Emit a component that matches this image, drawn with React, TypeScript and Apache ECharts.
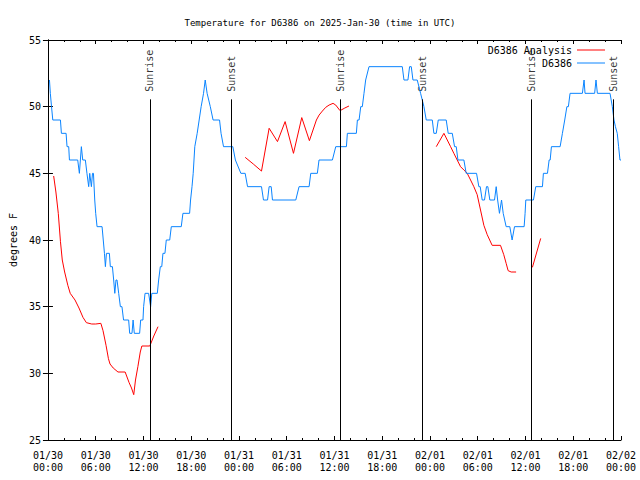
import React, { useEffect, useRef } from "react";
import * as echarts from "echarts";

const FONT = "'DejaVu Sans Mono', 'Liberation Mono', monospace";

const titleText = "Temperature for D6386 on 2025-Jan-30 (time in UTC)";
const xTickLabels = [
  "01/30\n00:00", "01/30\n06:00", "01/30\n12:00", "01/30\n18:00",
  "01/31\n00:00", "01/31\n06:00", "01/31\n12:00", "01/31\n18:00",
  "02/01\n00:00", "02/01\n06:00", "02/01\n12:00", "02/01\n18:00",
  "02/02\n00:00",
];
const sunHours = [12.8, 23.08, 36.73, 47.0, 60.77, 71.04];
const sunNames = ["Sunrise", "Sunset", "Sunrise", "Sunset", "Sunrise", "Sunset"];
const sunLineTop = 50.55;

// D6386 observations (hours since 01/30 00:00 UTC, deg F)
const obsHours = [
  0.19, 0.3, 0.45, 0.61, 1.57, 1.69, 2.28, 2.4, 2.61, 2.7, 3.74, 3.95, 4.2, 4.37, 4.7, 4.9,
  5.12, 5.25, 5.46, 5.6, 5.72, 5.88, 6.0, 6.17, 6.8, 6.95, 7.1, 7.22, 7.35, 7.72, 7.84, 8.1,
  8.26, 8.4, 8.55, 8.68, 8.89, 9.1, 9.3, 9.5, 10.14, 10.27, 10.56, 10.7, 10.85, 11.52, 11.65,
  11.94, 12.02, 12.2, 12.65, 12.9, 13.05, 13.74, 13.91, 14.12, 14.3, 14.45, 14.7, 14.87, 15.3,
  15.5, 16.75, 16.96, 17.8, 17.92, 18.1, 18.25, 18.35, 18.45, 18.75, 19.0, 19.25, 19.55, 19.76,
  20.0, 20.4, 20.75, 21.56, 21.75, 22.06, 23.23, 23.55, 24.24, 24.78, 25.08, 26.83, 27.08,
  27.59, 27.79, 28.05, 28.21, 31.14, 31.55, 32.81, 33.02, 33.85, 34.06, 35.74, 36.16, 37.5,
  37.62, 38.75, 38.88, 39.09, 39.3, 39.5, 39.71, 39.92, 40.34, 44.52, 44.73, 45.23, 45.44,
  45.65, 45.86, 46.4, 46.82, 47.24, 47.53, 48.29, 48.49, 48.79, 49.04, 50.04, 50.29, 50.8,
  51.09, 51.3, 51.51, 52.26, 52.55, 53.85, 54.14, 54.31, 54.56, 54.85, 55.1, 55.27, 55.52,
  56.11, 56.32, 56.5, 56.73, 56.99, 57.2, 57.57, 58.03, 58.32, 58.62, 59.83, 59.95, 60.04,
  61.0, 61.29, 62.13, 62.25, 62.76, 62.97, 63.1, 63.26, 64.35, 64.64, 64.93, 65.2, 65.39,
  65.6, 67.15, 67.36, 67.48, 68.69, 68.86, 69.03, 70.62, 70.91, 71.12, 71.3, 71.53, 71.7,
  71.87, 72.0,
];
const obsTemps = [
  52, 51, 50, 49, 49, 48, 48, 47, 47, 46, 46, 45, 47, 46, 46, 45,
  44, 45, 44, 45, 45, 43, 42, 41, 41, 40, 39, 38, 39, 39, 38, 38,
  37, 36, 37, 37, 36, 35, 35, 34, 34, 33, 33, 34, 33, 33, 34,
  34, 35, 36, 36, 35, 36, 36, 37, 38, 38, 39, 39, 40, 40,
  41, 41, 42, 42, 43, 44, 45, 46, 47, 48, 49, 50, 51, 52,
  51, 50, 49, 49, 48, 47, 47, 46, 45, 45, 44, 44, 43,
  43, 44, 44, 43, 43, 44, 44, 45, 45, 46, 46, 47, 47,
  48, 48, 49, 49, 50, 50, 51, 52, 53, 53, 52, 52, 53,
  53, 52, 52, 51, 50, 49, 49, 48, 48, 49, 49, 48, 48,
  47, 47, 46, 46, 45, 45, 44, 44, 43, 43, 44, 44, 43,
  43, 44, 43, 42, 43, 42, 41, 41, 40, 41, 41, 42, 43,
  43, 44, 44, 45, 45, 46, 46, 47, 47, 48, 49, 50, 50,
  51, 51, 52, 51, 51, 52, 51, 51, 50, 49, 48.5, 48, 47,
  46, 46,
];

// D6386 Analysis (four separate runs)
const anaHours1 = [0.72, 1.0, 1.3, 1.57, 1.8, 2.1, 2.5, 2.8, 3.4, 3.9, 4.4, 4.83, 5.5, 6.0, 6.65, 6.92, 7.3, 7.6, 7.8, 8.2, 8.8, 9.3, 9.7, 10.2, 10.5, 10.78, 11.0, 11.3, 11.6, 11.8, 12.8, 13.3, 13.83];
const anaTemps1 = [44.8, 43.6, 42.0, 39.9, 38.5, 37.6, 36.6, 36.0, 35.5, 34.9, 34.2, 33.8, 33.7, 33.7, 33.75, 33.2, 32.1, 31.1, 30.7, 30.4, 30.1, 30.1, 30.1, 29.3, 28.9, 28.4, 29.5, 30.5, 31.6, 32.05, 32.05, 32.8, 33.5];
const anaHours2 = [24.78, 25.8, 26.83, 27.79, 28.84, 29.8, 30.85, 31.89, 32.85, 33.73, 34.07, 34.48, 34.9, 35.32, 35.82, 36.16, 36.7, 37.3, 37.82];
const anaTemps2 = [46.2, 45.7, 45.17, 48.38, 47.38, 48.88, 46.5, 49.18, 47.45, 49.0, 49.37, 49.67, 49.95, 50.12, 50.25, 50.12, 49.7, 49.9, 50.05];
const anaHours3 = [48.79, 49.75, 50.59, 51.0, 51.42, 51.84, 52.26, 52.68, 53.1, 53.51, 53.93, 54.35, 54.77, 55.19, 55.81, 56.86, 57.27, 57.57, 57.82, 58.2, 58.82];
const anaTemps3 = [47.0, 48.0, 47.0, 46.5, 46.0, 45.5, 45.25, 45.0, 44.5, 44.0, 43.4, 42.25, 41.1, 40.4, 39.6, 39.6, 38.9, 38.25, 37.7, 37.6, 37.6];
const anaHours4 = [60.87, 61.91];
const anaTemps4 = [37.95, 40.12];

const RED = "#ff0000";
const BLUE = "#0a84ff";

function zip(h: number[], t: number[]) {
  return h.map((x, i) => [x, t[i]]);
}

function anaSeries(h: number[], t: number[]) {
  return {
    name: "D6386 Analysis",
    type: "line",
    data: zip(h, t),
    symbol: "none",
    showSymbol: false,
    lineStyle: { color: RED, width: 1 },
    itemStyle: { color: RED },
    z: 3,
  };
}

export default function App() {
  const ref = useRef<HTMLDivElement>(null);
  useEffect(() => {
    if (!ref.current) return;
    const chart = echarts.init(ref.current, null, { renderer: "svg" });
    const axisTxt = { fontFamily: FONT, fontSize: 10, color: "#000" };
    const option = {
      animation: false,
      textStyle: axisTxt,
      title: {
        text: titleText,
        left: "center",
        top: 13,
        textStyle: { fontFamily: FONT, fontSize: 9, fontWeight: "normal", color: "#000" },
      },
      legend: {
        orient: "vertical",
        right: 30,
        top: 40,
        align: "right",
        icon: "rect",
        itemWidth: 28,
        itemHeight: 1,
        itemGap: 3,
        data: [
          { name: "D6386 Analysis", itemStyle: { color: RED } },
          { name: "D6386", itemStyle: { color: BLUE } },
        ],
        textStyle: { fontFamily: FONT, fontSize: 10, color: "#000" },
      },
      grid: { left: 46, right: 19, top: 40, bottom: 40 },
      xAxis: [
        {
          type: "value",
          min: 0,
          max: 72,
          interval: 6,
          position: "bottom",
          axisLine: { show: true, lineStyle: { color: "#000", width: 1 } },
          axisTick: { show: true, inside: true, length: 4, lineStyle: { color: "#000" } },
          minorTick: { show: true, splitNumber: 3, length: 2, lineStyle: { color: "#000" } },
          splitLine: { show: false },
          axisLabel: {
            ...axisTxt,
            margin: 9,
            lineHeight: 12,
            formatter: (v: number) => xTickLabels[Math.round(v / 6)],
          },
        },
        {
          type: "value",
          min: 0,
          max: 72,
          interval: 6,
          position: "top",
          axisLine: { show: true, lineStyle: { color: "#000", width: 1 } },
          axisTick: { show: true, inside: true, length: 4, lineStyle: { color: "#000" } },
          minorTick: { show: true, splitNumber: 3, length: 2, lineStyle: { color: "#000" } },
          splitLine: { show: false },
          axisLabel: { show: false },
        },
      ],
      yAxis: [
        {
          type: "value",
          min: 25,
          max: 55,
          interval: 5,
          position: "left",
          name: "degrees F",
          nameLocation: "middle",
          nameRotate: 90,
          nameGap: 29,
          nameTextStyle: axisTxt,
          axisLine: { show: true, lineStyle: { color: "#000", width: 1 } },
          axisTick: { show: true, inside: true, length: 5, lineStyle: { color: "#000" } },
          splitLine: { show: false },
          axisLabel: { ...axisTxt, margin: 7 },
        },
        {
          type: "value",
          min: 25,
          max: 55,
          interval: 5,
          position: "right",
          axisLine: { show: true, lineStyle: { color: "#000", width: 1 } },
          axisTick: { show: true, inside: true, length: 5, lineStyle: { color: "#000" } },
          splitLine: { show: false },
          axisLabel: { show: false },
        },
      ],
      series: [
        anaSeries(anaHours1, anaTemps1),
        anaSeries(anaHours2, anaTemps2),
        anaSeries(anaHours3, anaTemps3),
        anaSeries(anaHours4, anaTemps4),
        {
          name: "D6386",
          type: "line",
          data: zip(obsHours, obsTemps),
          symbol: "none",
          showSymbol: false,
          lineStyle: { color: BLUE, width: 1 },
          itemStyle: { color: BLUE },
          z: 3,
        },
        {
          name: "sun",
          type: "scatter",
          data: sunHours.map((h, i) => ({ value: [h, sunLineTop], name: sunNames[i] })),
          symbolSize: 1,
          itemStyle: { color: "rgba(0,0,0,0)" },
          silent: true,
          label: {
            show: true,
            formatter: "{b}",
            position: "top",
            distance: 7,
            rotate: 90,
            align: "left",
            verticalAlign: "middle",
            fontFamily: FONT,
            fontSize: 10,
            color: "#000",
          },
          markLine: {
            silent: true,
            symbol: ["none", "none"],
            label: { show: false },
            lineStyle: { color: "#000", width: 1, type: "solid" },
            data: sunHours.map((h) => [{ coord: [h, sunLineTop] }, { coord: [h, 25] }]),
          },
          z: 2,
        },
      ],
    };
    chart.setOption(option as any);
    return () => chart.dispose();
  }, []);
  return <div ref={ref} style={{ width: 640, height: 480, position: "absolute", left: 0, top: 0 }} />;
}
